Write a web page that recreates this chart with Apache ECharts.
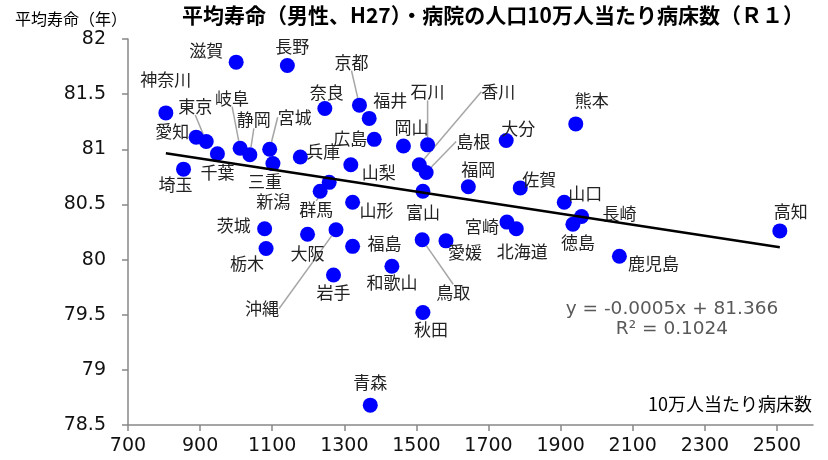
<!DOCTYPE html>
<html><head><meta charset="utf-8">
<script src="https://cdn.jsdelivr.net/npm/echarts@6/dist/echarts.min.js"></script>
<style>html,body{margin:0;padding:0;background:#fff}#c{width:828px;height:460px}</style>
</head><body><div id="c"></div>
<script>
// ---- data ----
const prefectures = ['滋賀','長野','神奈川','愛知','東京','千葉','岐阜','静岡','宮城','三重','兵庫','奈良','京都','福井','広島','岡山','石川','大分','熊本','佐賀','山口','長崎','徳島','宮崎','北海道','鹿児島','高知','山梨','香川','島根','福岡','富山','群馬','新潟','山形','福島','愛媛','鳥取','和歌山','秋田','沖縄','大阪','岩手','茨城','栃木','埼玉','青森'];
const bedsPer100k = [1000,1142,805,889,917,948,1011,1038,1093,1102,1178,1246,1342,1369,1383,1464,1531,1749,1942,1788,1910,1958,1934,1751,1777,2063,2508,1318,1508,1527,1644,1518,1258,1233,1323,1323,1582,1516,1432,1518,1277,1198,1270,1079,1083,854,1372];
const lifeExpectancy = [81.79,81.76,81.33,81.11,81.07,80.96,81.01,80.95,81.00,80.87,80.93,81.37,81.40,81.28,81.09,81.03,81.04,81.08,81.23,80.65,80.52,80.39,80.32,80.34,80.28,80.03,80.26,80.86,80.86,80.79,80.66,80.62,80.70,80.62,80.52,80.12,80.17,80.18,79.94,79.52,80.27,80.23,79.86,80.28,80.10,80.82,78.68];
const xTickLabels = [700,900,1100,1300,1500,1700,1900,2100,2300,2500];
const yTickLabels = [78.5,79,79.5,80,80.5,81,81.5,82];
const trendSlope = -0.0005;
const trendIntercept = 81.366;
const rSquared = '0.1024';

// ---- label layout (pixel offsets of label centre from the dot) ----
const labelOffsets = {
  '滋賀':[-30,-12],'長野':[5,-19],'神奈川':[0,-33],'愛知':[-24,-6],'東京':[-11,-35],'千葉':[0,19],
  '岐阜':[-8,-50],'静岡':[4,-35],'宮城':[25,-32],'三重':[-8,18],'兵庫':[23,-5],'奈良':[2,-16],
  '京都':[-8,-43],'福井':[21,-18],'広島':[-24,-1],'岡山':[8,-18],'石川':[0,-53],'大分':[12,-12],
  '熊本':[16,-23],'佐賀':[19,-8],'山口':[21,-9],'長崎':[38,-3],'徳島':[5,18],'宮崎':[-25,4],
  '北海道':[6,23],'鹿児島':[34,7],'高知':[11,-19],'山梨':[28,8],'香川':[79,-73],'島根':[47,-31],
  '福岡':[10,-17],'富山':[0,21],'群馬':[-13,27],'新潟':[-47,10],'山形':[24,8],'福島':[32,-3],
  '愛媛':[19,12],'鳥取':[31,53],'和歌山':[0,16],'秋田':[8,17],'沖縄':[-74,79],'大阪':[0,19],
  '岩手':[0,18],'茨城':[-31,-3],'栃木':[-19,15],'埼玉':[-8,15],'青森':[0,-23]
};
const withLeader = ['東京','岐阜','静岡','宮城','京都','石川','香川','島根','群馬','沖縄','鳥取'];

const scatterData = prefectures.map((n,i)=>({
  name:n, value:[bedsPer100k[i], lifeExpectancy[i]],
  labelLine:{show: withLeader.indexOf(n) >= 0}
}));
const xMin = Math.min.apply(null, bedsPer100k), xMax = Math.max.apply(null, bedsPer100k);
const trendData = [[xMin, trendSlope*xMin + trendIntercept],[xMax, trendSlope*xMax + trendIntercept]];

const chart = echarts.init(document.getElementById('c'), null, {renderer:'canvas'});
const jp = '"Noto Sans CJK JP", "Noto Sans", sans-serif';
const num = '"DejaVu Sans", Verdana, sans-serif';
chart.setOption({
  animation:false,
  backgroundColor:'#fff',
  title:{
    text:'平均寿命（男性、H27）・病院の人口10万人当たり病床数（Ｒ１）',
    left:177, top:0,
    textStyle:{fontFamily:jp, fontWeight:'bold', fontSize:21, color:'#000'}
  },
  grid:{left:128, right:15, top:39, bottom:35},
  xAxis:{
    type:'value', min:700, max:2600, interval:200,
    name:'10万人当たり病床数', nameLocation:'end', nameGap:-1,
    nameTextStyle:{fontFamily:jp, fontSize:18, color:'#000', align:'right', verticalAlign:'bottom', padding:[0,0,12,0]},
    axisLine:{lineStyle:{color:'#888', width:1.5}},
    axisTick:{show:true, length:6, inside:false, lineStyle:{color:'#888', width:1.5}, customValues:xTickLabels},
    axisLabel:{fontFamily:num, fontSize:19, color:'#111', margin:12, customValues:xTickLabels, formatter:function(v){return String(v);}},
    splitLine:{show:false}
  },
  yAxis:{
    type:'value', min:78.5, max:82, interval:0.5,
    name:'平均寿命（年）', nameLocation:'end', nameGap:12,
    nameTextStyle:{fontFamily:jp, fontSize:16, color:'#000', align:'right', verticalAlign:'bottom', padding:[0,1,0,0]},
    axisLine:{show:true, lineStyle:{color:'#888', width:1.5}},
    axisTick:{show:true, length:6, inside:false, lineStyle:{color:'#888', width:1.5}, customValues:yTickLabels},
    axisLabel:{fontFamily:num, fontSize:19, color:'#111', margin:22, customValues:yTickLabels, formatter:function(v){return String(v);}},
    splitLine:{show:false}
  },
  graphic:[
    {type:'text', x:672, y:300, style:{text:'y = -0.0005x + 81.366', align:'center', verticalAlign:'top', fontFamily:num, fontSize:18.5, fill:'#595959'}},
    {type:'text', x:672, y:320, style:{text:'R² = ' + rSquared, align:'center', verticalAlign:'top', fontFamily:num, fontSize:18.5, fill:'#595959'}}
  ],
  series:[{
    type:'scatter', name:'都道府県', data:scatterData, symbolSize:15, z:2,
    itemStyle:{color:'#0000ff', opacity:1},
    label:{show:true, position:'inside', formatter:'{b}', fontFamily:jp, fontSize:17, color:'#222'},
    labelLine:{show:false, lineStyle:{color:'#a6a6a6', width:1.5}},
    labelLayout:function(p){
      const o = labelOffsets[prefectures[p.dataIndex]] || [0,0];
      return {dx:o[0], dy:o[1]};
    },
    emphasis:{disabled:true}
  },{
    type:'line', name:'trend', data:trendData, showSymbol:false, z:3,
    lineStyle:{color:'#000', width:2.5}, silent:true
  }]
});
</script></body></html>
